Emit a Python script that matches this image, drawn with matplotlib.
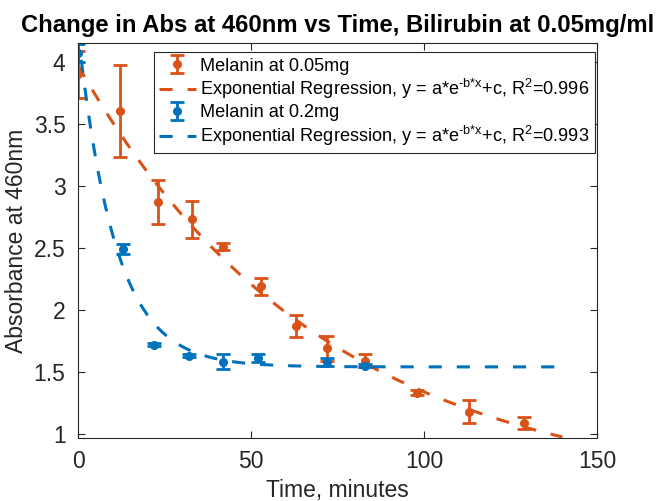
import numpy as np
import matplotlib
matplotlib.use('Agg')
import matplotlib.pyplot as plt

plt.rcParams['font.family'] = ['Liberation Sans', 'DejaVu Sans']
plt.rcParams['mathtext.fontset'] = 'custom'
plt.rcParams['mathtext.rm'] = 'Liberation Sans'
plt.rcParams['mathtext.it'] = 'Liberation Sans'
plt.rcParams['mathtext.default'] = 'regular'

# melanin 0.05mg
t_05 = [0, 12, 23, 33, 42, 53, 63, 72, 83, 98, 113, 129]
abs_05 = [3.90, 3.60, 2.87, 2.73, 2.51, 2.19, 1.87, 1.69, 1.59, 1.33, 1.18, 1.09]
err_05 = [0.19, 0.37, 0.18, 0.15, 0.03, 0.07, 0.09, 0.10, 0.05, 0.02, 0.09, 0.05]
fit_05 = dict(a=3.47, b=0.0142, c=0.50, r2=0.996)

# melanin 0.2mg
t_02 = [0, 13, 22, 32, 42, 52, 72, 83]
abs_02 = [4.07, 2.49, 1.72, 1.63, 1.58, 1.61, 1.58, 1.55]
err_02 = [0.07, 0.04, 0.015, 0.01, 0.06, 0.03, 0.03, 0.01]
fit_02 = dict(a=2.70, b=0.093, c=1.54, r2=0.993)

orange = '#D95319'
blue = '#0072BD'
axcol = '#262626'

fig = plt.figure(figsize=(6.56, 5.01), dpi=100)
ax = fig.add_axes([0.119, 0.126, 0.791, 0.788])

tt = np.linspace(0, 140, 400)

def fitlabel(p):
    return r'Exponential Regression, y = a*e$^{\text{-b*x}}$+c, R$^{2}$=%.3f' % p['r2']

h1 = ax.errorbar(t_05, abs_05, yerr=err_05, fmt='o', color=orange, ms=5.5, lw=2,
                 capsize=5, capthick=2, label='Melanin at 0.05mg')
h2, = ax.plot(tt, fit_05['a'] * np.exp(-fit_05['b'] * tt) + fit_05['c'], color=orange,
              lw=2.2, dashes=(4.3, 4.9), label=fitlabel(fit_05))
h3 = ax.errorbar(t_02, abs_02, yerr=err_02, fmt='o', color=blue, ms=5.5, lw=2,
                 capsize=5, capthick=2, label='Melanin at 0.2mg')
h4, = ax.plot(tt, fit_02['a'] * np.exp(-fit_02['b'] * tt) + fit_02['c'], color=blue,
              lw=2.2, dashes=(4.3, 4.9), label=fitlabel(fit_02))

ax.set_xlim(0, 150)
ax.set_ylim(0.968, 4.15)
ax.set_xticks([0, 50, 100, 150])
ax.set_yticks([1, 1.5, 2, 2.5, 3, 3.5, 4])
ax.set_yticklabels(['1', '1.5', '2', '2.5', '3', '3.5', '4'])
ax.tick_params(direction='in', top=True, right=True, length=5, width=0.8,
               colors=axcol, labelsize=16.5, pad=9)
for s in ax.spines.values():
    s.set_color(axcol)
    s.set_linewidth(0.8)

ax.set_xlabel('Time, minutes', fontsize=16.5, color=axcol, labelpad=4)
ax.set_ylabel('Absorbance at 460nm', fontsize=16.5, color=axcol, labelpad=4)
ax.set_title('Change in Abs at 460nm vs Time, Bilirubin at 0.05mg/ml',
             fontsize=17.2, fontweight='bold', pad=8)

leg = ax.legend([h1, h2, h3, h4], [h.get_label() for h in [h1, h2, h3, h4]],
                loc='upper right', bbox_to_anchor=(0.996, 0.977), borderaxespad=0,
                fontsize=13.1, fancybox=False, framealpha=1,
                edgecolor=axcol, handlelength=2.0, handletextpad=0.25,
                labelspacing=0.15, borderpad=0.3)
leg.get_frame().set_linewidth(0.8)

fig.savefig('out.png', dpi=100)
